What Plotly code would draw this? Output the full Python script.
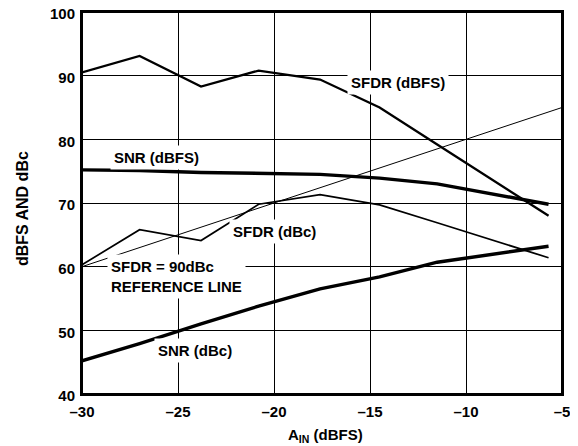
import plotly.graph_objects as go

# DATA
A_IN = [-30, -27, -23.8, -20.8, -17.6, -14.5, -11.5, -5.7]
SFDR_DBFS = [90.5, 93.1, 88.3, 90.8, 89.4, 85.0, 79.2, 68.0]
SNR_DBFS = [75.2, 75.1, 74.8, 74.7, 74.5, 73.9, 73.0, 69.8]
SFDR_DBC = [60.3, 65.8, 64.1, 69.8, 71.3, 69.7, 66.9, 61.4]
SNR_DBC = [45.2, 47.9, 51.0, 53.8, 56.5, 58.4, 60.7, 63.2]
REF_X = [-30, -5]
REF_Y = [60, 85]

X_TICKS = [-30, -25, -20, -15, -10, -5]
X_TICKTEXT = ["–30", "–25", "–20", "–15", "–10", "–5"]
Y_TICKS = [40, 50, 60, 70, 80, 90, 100]

FONT = "Liberation Sans, Arial, sans-serif"
BLACK = "#000000"
SIZE = 15

fig = go.Figure()

series = [
    (REF_X, REF_Y, 1.0),
    (A_IN, SFDR_DBC, 1.7),
    (A_IN, SFDR_DBFS, 2.3),
    (A_IN, SNR_DBFS, 3.4),
    (A_IN, SNR_DBC, 3.4),
]
for xs, ys, w in series:
    fig.add_trace(go.Scatter(x=xs, y=ys, mode="lines",
                             line=dict(color=BLACK, width=w),
                             showlegend=False, hoverinfo="skip"))

bold = dict(family=FONT, size=SIZE, color=BLACK, weight="bold")

labels = [
    # text, x, y, xanchor
    ("SFDR (dBFS)", -13.55, 89.0, "center"),
    ("SNR (dBFS)", -26.1, 77.1, "center"),
    ("SFDR (dBc)", -19.95, 65.5, "center"),
    ("SFDR = 90dBc<br>REFERENCE LINE", -28.7, 58.4, "left"),
    ("SNR (dBc)", -24.1, 46.8, "center"),
]
for text, x, y, xa in labels:
    fig.add_annotation(x=x, y=y, text=text, showarrow=False, xanchor=xa,
                       align="left", bgcolor="white", borderpad=3, font=bold)

# axis titles placed by hand (paper coords)
fig.add_annotation(x=0.508, y=-0.108, xref="paper", yref="paper",
                   xanchor="center", yanchor="middle",
                   text="A<sub>IN</sub> (dBFS)", showarrow=False, font=bold)
fig.add_annotation(x=-0.125, y=0.484, xref="paper", yref="paper",
                   xanchor="center", yanchor="middle",
                   text="dBFS AND dBc", textangle=-90, showarrow=False,
                   font=dict(bold, size=16))

# frame round the plot area
fig.add_shape(type="rect", xref="paper", yref="paper", x0=0, y0=0, x1=1, y1=1,
              line=dict(color=BLACK, width=2), layer="above")

axis_common = dict(
    showgrid=True, gridcolor=BLACK, gridwidth=1.2,
    showline=True, linecolor=BLACK, linewidth=2, mirror=True,
    zeroline=False, ticks="", automargin=False, ticklabeloverflow="allow",
    tickfont=bold,
)

fig.update_xaxes(range=[-30, -5], tickvals=X_TICKS, ticktext=X_TICKTEXT,
                 ticklabelstandoff=3, **axis_common)
fig.update_yaxes(range=[40, 100], tickvals=Y_TICKS, ticklabelstandoff=2,
                 ticklabelshift=2, **axis_common)

# the page body adds an 8px offset, margins are trimmed to make up for it
fig.update_layout(
    template="none",
    width=578, height=446,
    margin=dict(l=74, r=24, t=4, b=60),
    paper_bgcolor="white", plot_bgcolor="white",
    font=dict(family=FONT, color=BLACK),
)

fig.write_html("out.html")
